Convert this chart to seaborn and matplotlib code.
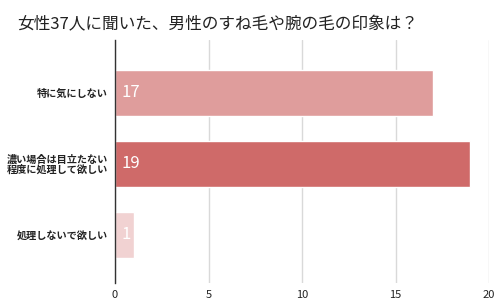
import matplotlib
matplotlib.use("Agg")
import matplotlib.pyplot as plt
import seaborn as sns
import pandas as pd

categories = ["特に気にしない", "濃い場合は目立たない\n程度に処理して欲しい", "処理しないで欲しい"]
values = [17, 19, 1]
colors = ["#df9d9c", "#cf6a69", "#f1d2d2"]
xticks = [0, 5, 10, 15, 20]
title = "女性37人に聞いた、男性のすね毛や腕の毛の印象は？"

sns.set_theme(style="white")
plt.rcParams['font.family'] = ['Noto Sans CJK JP', 'DejaVu Sans']

df = pd.DataFrame({"cat": categories, "val": values})
fig = plt.figure(figsize=(5, 3.04), dpi=100)
ax = fig.add_axes([0.23, 0.069, 0.748, 0.80])

sns.barplot(data=df, x="val", y="cat", hue="cat", palette=colors, legend=False,
            width=0.65, ax=ax, saturation=1)

ax.set_xlim(0, 20)
ax.set_ylim(2.676, -0.746)
ax.set_xticks(xticks)
ax.set_xticklabels([str(t) for t in xticks], fontsize=8, color="#222222")
ax.xaxis.grid(True, color="#d9d9d9", linewidth=1)
ax.set_axisbelow(True)
for s in ["top", "right", "bottom"]:
    ax.spines[s].set_visible(False)
ax.spines["left"].set_color("#333333")
ax.spines["left"].set_linewidth(1)
ax.tick_params(axis="x", length=0, pad=5)
ax.tick_params(axis="y", length=0, pad=5)
for lbl in ax.get_yticklabels():
    lbl.set_fontsize(7.3)
    lbl.set_fontweight("bold")
    lbl.set_color("#222222")
    lbl.set_linespacing(1.0)
ax.set_xlabel("")
ax.set_ylabel("")

for i, v in enumerate(values):
    ax.text(0.35, i, str(v), color="white", fontsize=12, va="center", ha="left")

fig.text(0.034, 0.918, title, fontsize=12, color="#222222", va="center", ha="left")

fig.savefig("out.png", dpi=100, facecolor="white")
